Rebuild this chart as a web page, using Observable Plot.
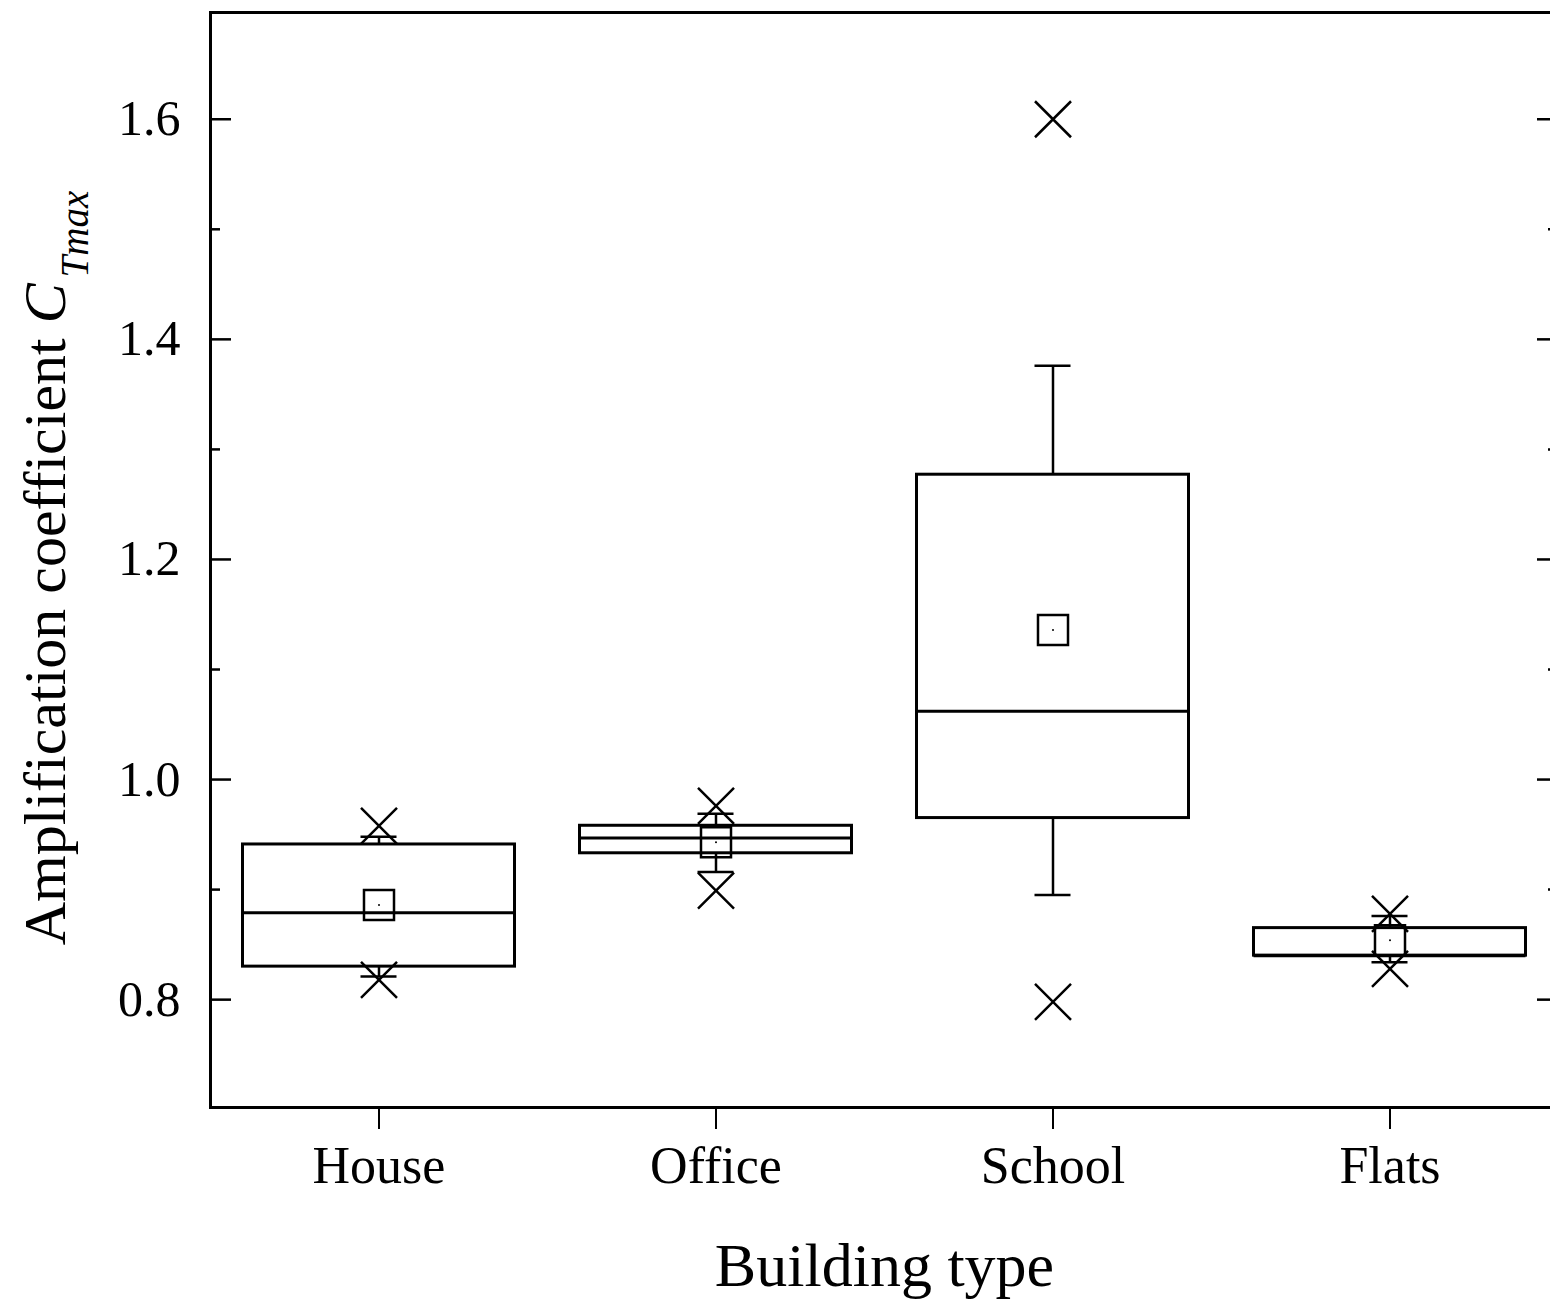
<!DOCTYPE html>
<html><head><meta charset="utf-8">
<script src="https://cdn.jsdelivr.net/npm/d3@7"></script>
<script src="https://cdn.jsdelivr.net/npm/@observablehq/plot@0.6"></script>
<style>html,body{margin:0;padding:0;background:#fff;overflow:hidden;}</style>
</head><body><div id="chart"></div>
<script>
// ---- data ----
const categories = ["House", "Office", "School", "Flats"];
const q1        = [0.830, 0.933, 0.965, 0.840];
const q3        = [0.941, 0.958, 1.277, 0.865];
const median    = [0.879, 0.947, 1.062, 0.840];
const mean      = [0.886, 0.943, 1.136, 0.854];
const whiskLow  = [0.821, 0.916, 0.895, 0.834];
const whiskHigh = [0.948, 0.969, 1.376, 0.876];
const pctLow    = [0.818, 0.899, 0.798, 0.828];
const pctHigh   = [0.958, 0.976, 1.600, 0.878];
const majorTicks = [0.8, 1.0, 1.2, 1.4, 1.6];
const minorTicks = [0.9, 1.1, 1.3, 1.5];
const xTitle = "Building type";
const yTitleMain = "Amplification coefficient ";
const yTitleSymbol = "C";
const yTitleSub = "Tmax";

const rows = categories.map((c, i) => ({
  type: c, q1: q1[i], q3: q3[i], median: median[i], mean: mean[i],
  lo: whiskLow[i], hi: whiskHigh[i], pLow: pctLow[i], pHigh: pctHigh[i]
}));

const W = 1558, H = 1303, mL = 210, mR = 0, mT = 12, mB = 196;
const plotW = W - mL - mR;
const band = plotW / categories.length;
const boxInset = (band - 272) / 2;
const capInset = (band - 36) / 2;
const lw = 2.5;

const svg = Plot.plot({
  width: W, height: H,
  marginLeft: mL, marginRight: mR, marginTop: mT, marginBottom: mB,
  style: {fontFamily: "'Liberation Serif', 'Times New Roman', serif", background: "white", color: "black", maxWidth: "none"},
  x: {type: "band", domain: categories, padding: 0, label: null},
  y: {domain: [0.702, 1.697], label: null},
  marks: [
    Plot.ruleX(rows, {x: "type", y1: "q3", y2: "hi", stroke: "black", strokeWidth: lw}),
    Plot.ruleX(rows, {x: "type", y1: "q1", y2: "lo", stroke: "black", strokeWidth: lw}),
    Plot.tickY(rows, {x: "type", y: "hi", insetLeft: capInset, insetRight: capInset, stroke: "black", strokeWidth: lw}),
    Plot.tickY(rows, {x: "type", y: "lo", insetLeft: capInset, insetRight: capInset, stroke: "black", strokeWidth: lw}),
    Plot.barY(rows, {x: "type", y1: "q1", y2: "q3", fill: "none", stroke: "black", strokeWidth: 3, insetLeft: boxInset, insetRight: boxInset}),
    Plot.tickY(rows, {x: "type", y: "median", insetLeft: boxInset, insetRight: boxInset, stroke: "black", strokeWidth: 3}),
    Plot.dot(rows, {x: "type", y: "mean", symbol: "square", r: 16.93, stroke: "black", strokeWidth: lw, fill: "none"}),
    Plot.dot(rows, {x: "type", y: "mean", r: 1, fill: "black", stroke: null}),
    Plot.dot(rows, {x: "type", y: "pLow", symbol: "times", r: 16.43, stroke: "black", strokeWidth: lw}),
    Plot.dot(rows, {x: "type", y: "pHigh", symbol: "times", r: 16.43, stroke: "black", strokeWidth: lw}),
    // inward ticks left & right
    Plot.tickY(majorTicks, {y: d => d, insetRight: plotW - 21, stroke: "black", strokeWidth: lw}),
    Plot.tickY(minorTicks, {y: d => d, insetRight: plotW - 10, stroke: "black", strokeWidth: lw}),
    Plot.tickY(majorTicks, {y: d => d, insetLeft: plotW - 21, stroke: "black", strokeWidth: lw}),
    Plot.tickY(minorTicks, {y: d => d, insetLeft: plotW - 10, stroke: "black", strokeWidth: lw}),
    Plot.axisY({ticks: majorTicks, tickSize: 0, tickPadding: 30, tickFormat: d => d.toFixed(1), fontSize: 50, label: null}),
    Plot.axisX({tickSize: 22, tickPadding: 17, fontSize: 52, strokeWidth: 2, label: null}),
    Plot.frame({stroke: "black", strokeWidth: 3}),
    Plot.text([xTitle], {text: d => d, frameAnchor: "bottom", dy: 178, lineAnchor: "bottom", fontSize: 62}),
    Plot.text([yTitleMain], {text: d => d, frameAnchor: "left", textAnchor: "middle", dx: -146, dy: 8, rotate: -90, lineAnchor: "bottom", fontSize: 60})
  ]
});
document.getElementById("chart").appendChild(svg);

// rich y-axis title: italic C with italic subscript
const t = [...svg.querySelectorAll("text")].find(e => e.textContent.startsWith("Amplification"));
if (t) {
  const sel = d3.select(t);
  sel.text(null);
  sel.append("tspan").text(yTitleMain);
  sel.append("tspan").attr("font-style", "italic").text(yTitleSymbol);
  sel.append("tspan").attr("font-style", "italic").attr("font-size", "0.65em").attr("dx", "0.15em").attr("dy", "0.6em").text(yTitleSub);
}
</script>
</body></html>
